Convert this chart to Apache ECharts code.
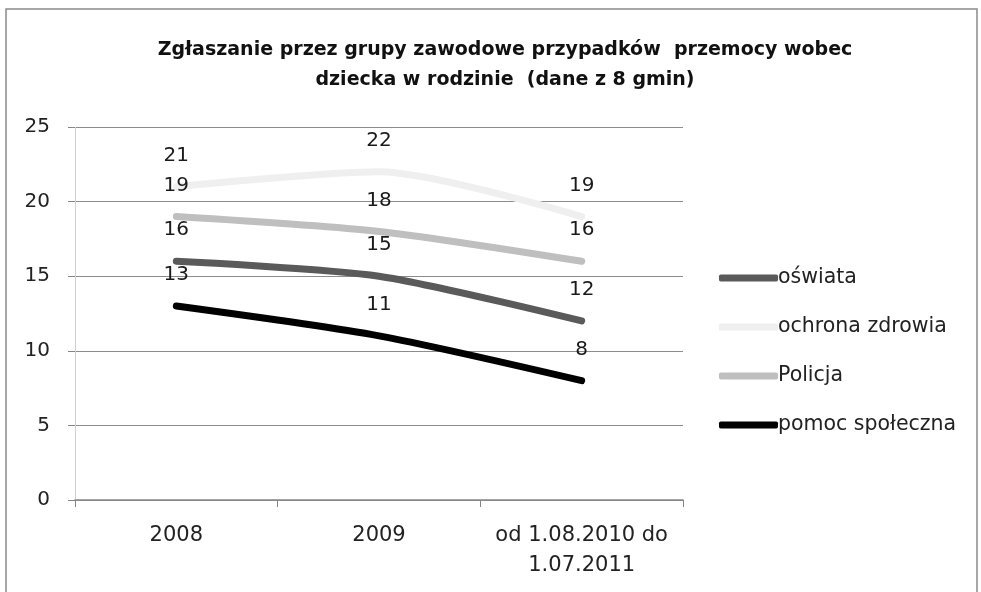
<!DOCTYPE html>
<html><head><meta charset="utf-8">
<script src="https://cdn.jsdelivr.net/npm/echarts@6/dist/echarts.min.js"></script>
<style>html,body{margin:0;padding:0;background:#fff}#c{width:981px;height:592px}</style>
</head><body><div id="c"></div>
<script>
const categories = ['2008', '2009', 'od 1.08.2010 do\n1.07.2011'];
const oswiata = [16, 15, 12];
const ochronaZdrowia = [21, 22, 19];
const policja = [19, 18, 16];
const pomocSpoleczna = [13, 11, 8];
const seriesNames = ['oświata', 'ochrona zdrowia', 'Policja', 'pomoc społeczna'];
const seriesColors = ['#5a5a5a', '#efefef', '#bfbfbf', '#000000'];
const yTicks = {min: 0, max: 25, interval: 5};

const font = 'DejaVu Sans';
const chart = echarts.init(document.getElementById('c'));
const dataSets = [oswiata, ochronaZdrowia, policja, pomocSpoleczna];
chart.setOption({
  animation: false,
  backgroundColor: '#fff',
  graphic: [{type: 'rect', shape: {x: 6, y: 9, width: 971, height: 600}, style: {fill: 'none', stroke: '#8a8a8a', lineWidth: 1.5}, silent: true}],
  title: {
    text: 'Zgłaszanie przez grupy zawodowe przypadków  przemocy wobec\ndziecka w rodzinie  (dane z 8 gmin)',
    left: 500, textAlign: 'center', top: 30,
    textStyle: {fontFamily: font, fontWeight: 'bold', fontSize: 19, lineHeight: 30, color: '#111'}
  },
  legend: {
    orient: 'vertical', left: 714, top: 261, itemWidth: 59, itemHeight: 7, itemGap: 25,
    icon: 'roundRect',
    textStyle: {fontFamily: font, fontSize: 20.5, color: '#222', padding: [0, 0, 0, -5], lineHeight: 24},
    data: seriesNames
  },
  grid: {left: 75, right: 298, top: 127, bottom: 92},
  xAxis: {
    type: 'category', data: categories, boundaryGap: true,
    axisLine: {lineStyle: {color: '#868686', width: 1.5}},
    axisTick: {show: true, length: 7, lineStyle: {color: '#868686'}},
    axisLabel: {fontFamily: font, fontSize: 21, color: '#222', margin: 21, lineHeight: 30, interval: 0}
  },
  yAxis: {
    type: 'value', min: yTicks.min, max: yTicks.max, interval: yTicks.interval,
    axisLine: {show: true, lineStyle: {color: '#d0d0d0'}},
    axisTick: {show: true, length: 7, lineStyle: {color: '#868686'}},
    splitLine: {lineStyle: {color: '#8c8c8c', width: 1.2}},
    axisLabel: {fontFamily: font, fontSize: 20, color: '#222', margin: 25}
  },
  series: dataSets.map((d, i) => ({
    name: seriesNames[i], type: 'line', data: d, smooth: 0.25,
    symbol: 'circle', symbolSize: 0.01, showSymbol: true,
    itemStyle: {color: seriesColors[i]},
    color: seriesColors[i],
    lineStyle: {width: 7, color: seriesColors[i], cap: 'round'},
    label: {show: true, position: 'top', distance: 21, fontFamily: font, fontSize: 20, color: '#1a1a1a'},
    labelLayout: {hideOverlap: false}
  }))
});
</script></body></html>
